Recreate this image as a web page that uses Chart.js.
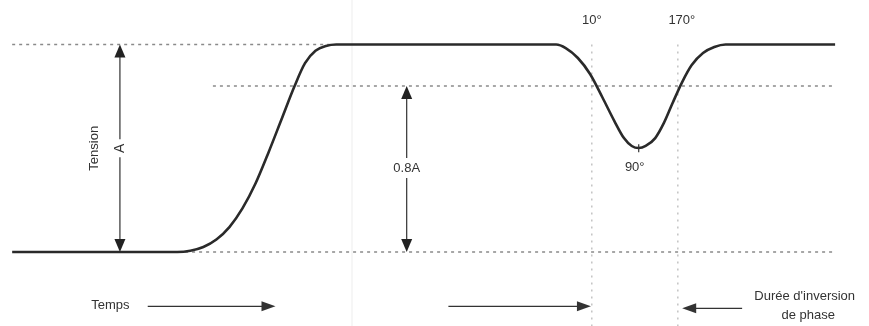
<!DOCTYPE html>
<html>
<head>
<meta charset="utf-8">
<script src="https://cdn.jsdelivr.net/npm/chart.js@4/dist/chart.umd.min.js"></script>
<style>
  html, body { margin: 0; padding: 0; background: #fff; }
  #wrap { width: 869px; height: 326px; }
</style>
</head>
<body>
<div id="wrap"><canvas id="chart"></canvas></div>
<script>
// waveform: time (arbitrary units) vs level (fraction of A)
const waveT = [1.4, 20.4, 21.9, 23.4, 24.9, 26.4, 27.9, 29.4, 30.9, 32.4, 33.9, 35.1, 36.3, 37.5, 38.7,
               64.0, 65.1, 66.5, 67.9, 69.3, 70.7, 71.8, 72.7, 73.5, 74.3, 75.4, 76.4, 77.4, 78.5, 79.6, 80.9, 82.2, 83.5, 96.1];
const waveLevel = [0, 0, 0.006, 0.024, 0.06, 0.12, 0.21, 0.33, 0.48, 0.64, 0.8, 0.91, 0.97, 0.993, 1,
                   1, 0.983, 0.935, 0.858, 0.747, 0.631, 0.549, 0.511, 0.501, 0.511, 0.549, 0.622, 0.718, 0.819, 0.901, 0.959, 0.988, 1, 1];

// dotted guide levels
const guideLevels = [1, 0.8, 0];
const guideStart  = [1.4, 24.5, 21.3];
const guideEnd    = [38.0, 96.1, 96.1];

// phase markers
const phaseT      = [68.1, 78.0];
const phaseLabels = ["10°", "170°"];
const minT = 73.5, minLevel = 0.5, minLabel = "90°";

// measurement arrows
const ampArrowT = 13.8, ampLabel = "A", ampTitle = "Tension";
const dipArrowT = 46.8, dipLevel = 0.8, dipLabel = "0.8A";

// bottom captions
const timeLabel = "Temps";
const inversionLabel = ["Durée d'inversion", "de phase"];

const yMin = -0.3566, yMax = 1.2145;

const toPts = (xs, ys) => xs.map((v, i) => ({ x: v, y: ys[i] }));

const guideSets = guideLevels.map((lv, i) => ({
  data: [{ x: guideStart[i], y: lv }, { x: guideEnd[i], y: lv }],
  borderColor: "#8a8a8a",
  borderWidth: 1.5,
  borderDash: [3, 4],
  pointRadius: 0,
  order: 3
}));

const phaseSets = phaseT.map(t => ({
  data: [{ x: t, y: 1 }, { x: t, y: yMin }],
  borderColor: "#c4c4c4",
  borderWidth: 1.5,
  borderDash: [2, 5],
  pointRadius: 0,
  order: 4
}));

function head(ctx, x, y, dx, dy, len, half) {
  // filled triangle, tip at (x,y), pointing along (dx,dy)
  const px = -dy, py = dx;
  ctx.beginPath();
  ctx.moveTo(x, y);
  ctx.lineTo(x - dx * len + px * half, y - dy * len + py * half);
  ctx.lineTo(x - dx * len - px * half, y - dy * len - py * half);
  ctx.closePath();
  ctx.fill();
}

const annotations = {
  id: "annotations",
  afterDatasetsDraw(chart) {
    const { ctx } = chart;
    const sx = chart.scales.x, sy = chart.scales.y;
    const X = v => sx.getPixelForValue(v);
    const Y = v => sy.getPixelForValue(v);
    ctx.save();
    ctx.strokeStyle = "#333";
    ctx.fillStyle = "#222";
    ctx.lineWidth = 1.2;
    ctx.font = "14px 'Liberation Sans', Arial, sans-serif";
    ctx.textAlign = "center";
    ctx.textBaseline = "middle";

    // amplitude arrow A
    let ax = X(ampArrowT), y0 = Y(0), y1 = Y(1), ym = Y(0.5);
    ctx.beginPath();
    ctx.moveTo(ax, y1 + 4); ctx.lineTo(ax, ym - 9);
    ctx.moveTo(ax, ym + 9); ctx.lineTo(ax, y0 - 4);
    ctx.stroke();
    head(ctx, ax, y1, 0, -1, 13, 5.5);
    head(ctx, ax, y0, 0, 1, 13, 5.5);
    ctx.save();
    ctx.translate(ax, ym);
    ctx.rotate(-Math.PI / 2);
    ctx.fillStyle = "#333";
    ctx.fillText(ampLabel, 0, 0);
    ctx.restore();
    ctx.save();
    ctx.translate(X(ampArrowT) - 26, ym);
    ctx.rotate(-Math.PI / 2);
    ctx.fillStyle = "#333";
    ctx.font = "13px 'Liberation Sans', Arial, sans-serif";
    ctx.fillText(ampTitle, 0, 0);
    ctx.restore();

    // 0.8A arrow
    let dx = X(dipArrowT), d1 = Y(dipLevel), dl = Y(0.405);
    ctx.beginPath();
    ctx.moveTo(dx, d1 + 4); ctx.lineTo(dx, dl - 10);
    ctx.moveTo(dx, dl + 10); ctx.lineTo(dx, y0 - 4);
    ctx.stroke();
    head(ctx, dx, d1, 0, -1, 13, 5.5);
    head(ctx, dx, y0, 0, 1, 13, 5.5);
    ctx.fillStyle = "#333";
    ctx.font = "13px 'Liberation Sans', Arial, sans-serif";
    ctx.fillText(dipLabel, dx, dl);

    // phase labels
    phaseLabels.forEach((lb, i) => {
      ctx.fillText(lb, X(phaseT[i]) + (i ? 4 : 0), Y(1.115));
    });
    // 90° tick and label
    ctx.beginPath();
    ctx.moveTo(X(minT), Y(minLevel) - 4); ctx.lineTo(X(minT), Y(minLevel) + 4);
    ctx.stroke();
    ctx.fillText(minLabel, X(minT) - 4, Y(0.41));

    // bottom arrows
    const by = Y(-0.262);
    ctx.fillText(timeLabel, X(12.7), by - 1);
    ctx.beginPath();
    ctx.moveTo(X(17), by); ctx.lineTo(X(30.5), by);
    ctx.moveTo(X(51.6), by); ctx.lineTo(X(66.8), by);
    ctx.moveTo(X(85.4), by + 2); ctx.lineTo(X(79.8), by + 2);
    ctx.stroke();
    head(ctx, X(31.7), by, 1, 0, 14, 5);
    head(ctx, X(68.0), by, 1, 0, 14, 5);
    head(ctx, X(78.5), by + 2, -1, 0, 14, 5);

    ctx.fillText(inversionLabel[0], X(92.6), Y(-0.215));
    ctx.fillText(inversionLabel[1], X(93.0), Y(-0.305));
    ctx.restore();
  }
};

new Chart(document.getElementById("chart"), {
  type: "line",
  data: {
    datasets: [
      {
        data: toPts(waveT, waveLevel),
        borderColor: "#2a2a2a",
        borderWidth: 2.6,
        pointRadius: 0,
        cubicInterpolationMode: "monotone",
        order: 1
      },
      {
        data: [{ x: 40.5, y: yMax }, { x: 40.5, y: yMin }],
        borderColor: "#f6f6f6",
        borderWidth: 2,
        pointRadius: 0,
        order: 5
      },
      ...guideSets,
      ...phaseSets
    ]
  },
  options: {
    responsive: true,
    maintainAspectRatio: false,
    animation: false,
    layout: { padding: 0 },
    scales: {
      x: { type: "linear", min: 0, max: 100, display: false },
      y: { min: yMin, max: yMax, display: false }
    },
    plugins: { legend: { display: false }, tooltip: { enabled: false } }
  },
  plugins: [annotations]
});
</script>
</body>
</html>
